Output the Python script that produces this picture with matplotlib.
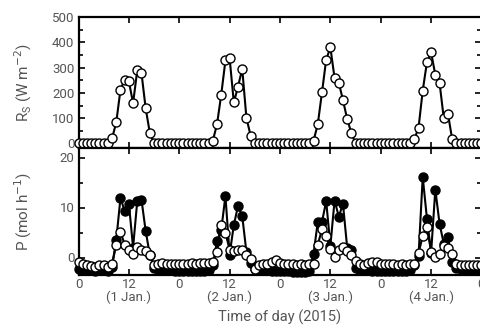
import numpy as np
import matplotlib
matplotlib.use("Agg")
import matplotlib.pyplot as plt
from matplotlib.ticker import MultipleLocator

plt.rcParams['font.family'] = ['Roboto', 'DejaVu Sans']
GREY = '#555555'

hours = np.arange(0, 97)

# solar radiation, W m-2 (hourly)
rs = ([0] * 8 + [20, 84, 213, 252, 246, 159, 290, 279, 139, 41] +
      [0] * 14 + [11, 76, 193, 328, 337, 162, 225, 295, 101, 31] +
      [0] * 14 + [11, 76, 202, 331, 380, 258, 241, 171, 97, 41] +
      [0] * 14 + [16, 62, 209, 321, 360, 271, 241, 101, 118, 18] +
      [0] * 7)

# P, filled symbols
p_filled = ([-2.3, -2.4, -2.5, -2.5, -2.6, -2.5, -2.5, -2.6] +
            [-1.8, 3.6, 11.9, 9.3, 10.8, 2.0, 11.3, 11.6, 5.3, 0.5] +
            [-2.0, -2.3, -2.4, -2.5, -2.5, -2.6, -2.6, -2.6, -2.7, -2.6, -2.6, -2.7, -2.6, -2.5] +
            [-1.5, 3.3, 5.5, 12.3, 0.6, 6.5, 10.3, 8.3, 1.1, -1.0] +
            [-2.2, -2.4, -2.5, -2.5, -2.6, -2.6, -2.7, -2.7, -2.7, -2.8, -2.8, -2.8, -2.8, -2.7] +
            [0.8, 7.1, 7.1, 11.3, 2.3, 11.4, 8.2, 10.7, 2.0, 1.5] +
            [-2.0, -2.4, -2.5, -2.5, -2.6, -2.6, -2.6, -2.6, -2.7, -2.7, -2.7, -2.7, -2.6, -2.5] +
            [-1.5, 0.3, 16.1, 7.8, 1.0, 13.6, 6.8, 2.8, 4.1, -0.8] +
            [-2.0, -2.3, -2.4, -2.5, -2.5, -2.5, -2.5])

# P, open symbols
p_open = ([-0.9, -1.2, -1.5, -1.7, -1.9, -1.4, -1.5, -1.9] +
          [-1.2, 2.5, 5.1, 2.6, 1.6, 0.8, 2.1, 1.6, 1.3, 0.5] +
          [-1.5, -1.2, -1.0, -1.2, -1.2, -1.2, -1.3, -1.2, -1.2, -1.1, -1.3, -1.1, -1.1, -1.1] +
          [-0.9, 1.1, 6.5, 4.9, 1.6, 1.3, 1.5, 1.5, 0.5, -0.2] +
          [-2.2, -1.4, -1.2, -1.3, -0.8, -0.5, -1.0, -1.2, -1.2, -1.3, -1.5, -1.2, -1.5, -1.2] +
          [-1.2, 2.5, 5.7, 4.3, 1.8, 0.1, 1.5, 2.1, 1.4, 0.6] +
          [-0.6, -1.2, -1.5, -1.1, -0.9, -0.9, -1.2, -1.2, -1.3, -1.3, -1.4, -1.3, -1.4, -1.3] +
          [-1.2, 0.9, 4.3, 6.1, 1.2, 0.2, 0.8, 2.4, 2.0, 0.7] +
          [-1.3, -1.5, -1.5, -1.4, -1.4, -1.5, -1.5])

xticks = [0, 12, 24, 36, 48, 60, 72, 84, 96]
xticklabels = ['0', '12\n(1 Jan.)', '0', '12\n(2 Jan.)', '0', '12\n(3 Jan.)',
               '0', '12\n(4 Jan.)', '0']

fig = plt.figure(figsize=(4.81, 3.27), dpi=100)
W, H = 481.0, 327.0
left = 78.5 / W
width = 403.0 / W
ax1 = fig.add_axes([left, (H - 148) / H, width, 131 / H])
ax2 = fig.add_axes([left, (H - 275) / H, width, 127 / H])

mk = dict(marker='o', markersize=6.5, markeredgewidth=1.0, markeredgecolor='black',
          color='black', lw=1.5, clip_on=False)

ax1.plot(hours, rs, markerfacecolor='white', zorder=3, **mk)
ax2.plot(hours, p_filled, markerfacecolor='black', zorder=3, **mk)
ax2.plot(hours, p_open, markerfacecolor='white', zorder=4, **mk)

ax1.set_ylim(-18, 500)
ax1.yaxis.set_major_locator(MultipleLocator(100))
ax1.yaxis.set_minor_locator(MultipleLocator(50))
ax2.set_ylim(-3.5, 21.9)
ax2.yaxis.set_major_locator(MultipleLocator(10))
ax2.yaxis.set_minor_locator(MultipleLocator(5))

for ax in (ax1, ax2):
    ax.set_xlim(0, 96)
    ax.set_xticks(xticks)
    for s in ax.spines.values():
        s.set_linewidth(1.6)
    ax.tick_params(which='both', direction='in', top=True, right=True,
                   colors='black', labelcolor=GREY, labelsize=9.5, width=1.2)
    ax.tick_params(which='major', length=4.5)
    ax.tick_params(which='minor', length=3)
    ax.tick_params(axis='y', pad=3)

ax1.set_xticklabels([])
ax2.set_xticklabels(xticklabels, linespacing=1.0)
ax2.tick_params(axis='x', pad=2)

ax1.set_ylabel('R$_\\mathregular{S}$ (W m$^{-2}$)', color=GREY, fontsize=11)
ax2.set_ylabel('P (mol h$^{-1}$)', color=GREY, fontsize=11)
ax1.yaxis.set_label_coords(-0.11, 0.5)
ax2.yaxis.set_label_coords(-0.11, 0.5)
ax2.set_xlabel('Time of day (2015)', color=GREY, fontsize=10.5, labelpad=4)

fig.savefig('out.png', dpi=100)
